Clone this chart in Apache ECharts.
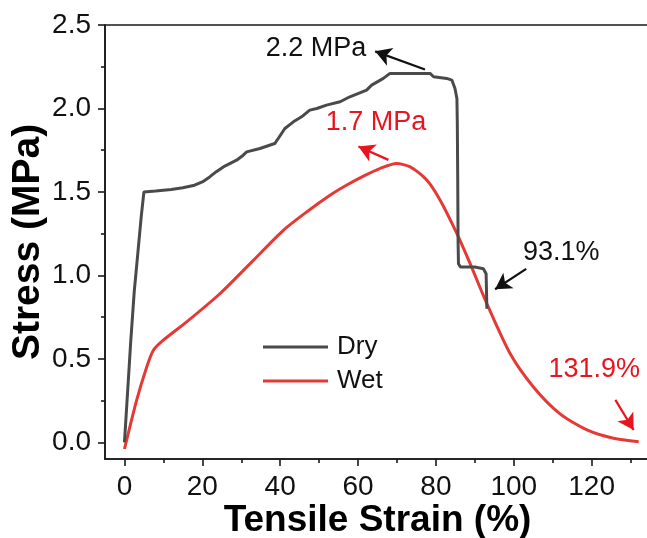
<!DOCTYPE html>
<html><head><meta charset="utf-8">
<script src="https://cdn.jsdelivr.net/npm/echarts@6/dist/echarts.min.js"></script>
<style>html,body{margin:0;padding:0;background:#fff}#c{width:647px;height:538px}</style>
</head><body><div id="c"></div>
<script>
var dryData = [[0,0],[0.8,0.3],[1.6,0.6],[2.5,0.9],[3.5,1.15],[4.3,1.35],[5.0,1.5],[5.5,1.51],[8,1.505],[12,1.515],[15,1.525],[18,1.54],[20,1.56],[21.9,1.59],[23.5,1.62],[25.4,1.65],[28.8,1.69],[30.5,1.72],[31.4,1.74],[34.8,1.76],[38.6,1.79],[39.5,1.82],[41.2,1.88],[43.4,1.92],[45.5,1.95],[47.6,1.99],[49.4,2.0],[51.9,2.02],[55.4,2.04],[57.9,2.07],[62.2,2.11],[63.5,2.14],[66.5,2.18],[68.2,2.21],[78.5,2.21],[79.4,2.19],[82.8,2.18],[84.1,2.17],[84.9,2.12],[85.4,2.06],[85.5,1.92],[85.6,1.6],[85.7,1.2],[85.8,1.07],[86.3,1.05],[90,1.05],[92.2,1.04],[92.9,1.01],[93.1,0.80]];
var wetData = [[0,-0.04],[3.1,0.25],[5.7,0.45],[7.4,0.55],[9.9,0.61],[15.9,0.72],[24.5,0.89],[33.1,1.09],[40.8,1.27],[46.8,1.38],[52.8,1.48],[57,1.54],[61.4,1.595],[65.6,1.64],[69.9,1.67],[73.4,1.65],[77.7,1.57],[81.1,1.45],[85.4,1.25],[88.8,1.07],[93.1,0.83],[99.1,0.53],[105.1,0.33],[111.9,0.17],[118.8,0.074],[125.6,0.024],[132.1,0.004]];
var xMajor = [0,20,40,60,80,100,120];
var xMinor = [10,30,50,70,90,110,130];
var yMajor = [0,0.5,1.0,1.5,2.0,2.5];
var yMinor = [0.25,0.75,1.25,1.75,2.25];
var seriesNames = ['Dry','Wet'];
// annotations: [text, textX, textY, arrowTail, arrowHead]
var dryNotes = [['2.2 MPa',49.2,2.358,[77.2,2.233],[64.4,2.342]],['93.1%',112.2,1.138,[103.2,1.039],[95.2,0.917]]];
var wetNotes = [['1.7 MPa',64.6,1.914,[67.8,1.692],[60.1,1.772]],['131.9%',120.7,0.433,[126.1,0.254],[130.8,0.074]]];

var FONT = 'Liberation Sans';
var DRY = '#4a4a4a', WET = '#e53935', TXTRED = '#e8141f';
function notesFor(notes, txtColor, arrColor){
  return {
    markPoint: {
      symbol: 'rect', symbolSize: 1, itemStyle:{color:'rgba(0,0,0,0)'},
      label: {show:true, position:'inside', color: txtColor, fontSize: 27, fontFamily: FONT,
        formatter: function(p){return p.name;}},
      data: notes.map(function(n){return {name:n[0], coord:[n[1],n[2]]};})
    },
    markLine: {
      silent: true, symbol: ['none','arrow'], symbolSize: [14,16],
      lineStyle: {color: arrColor, width: 2.2, type:'solid'}, label:{show:false},
      animation:false,
      data: notes.map(function(n){return [{coord:n[3]},{coord:n[4]}];})
    }
  };
}
function mkX(vals, len, showLabel, showLine){
  return {type:'value', min:-5, max:135, position:'bottom',
    axisLine:{show:showLine, onZero:false, lineStyle:{color:'#1a1a1a', width:1.6}},
    axisTick:{show:true, customValues: vals, length: len, lineStyle:{color:'#1a1a1a', width:1.6}},
    axisLabel:{show:showLabel, customValues: vals, fontSize:28, fontFamily:FONT, color:'#111', margin:14},
    splitLine:{show:false},
    name: showLabel ? 'Tensile Strain (%)' : '', nameLocation:'middle', nameGap:43, nameMoveOverlap:false,
    nameTextStyle:{fontSize:37, fontWeight:'bold', fontFamily:FONT, color:'#000'}};
}
function mkY(vals, len, showLabel, showLine){
  return {type:'value', min:-0.1, max:2.5, position:'left',
    axisLine:{show:showLine, onZero:false, lineStyle:{color:'#1a1a1a', width:1.6}},
    axisTick:{show:true, customValues: vals, length: len, lineStyle:{color:'#1a1a1a', width:1.6}},
    axisLabel:{show:showLabel, customValues: vals, fontSize:28, fontFamily:FONT, color:'#111', margin:14,
      formatter:function(v){return v.toFixed(1);}},
    splitLine:{show:false},
    name: showLabel ? 'Stress (MPa)' : '', nameLocation:'middle', nameGap:57, nameMoveOverlap:false,
    nameTextStyle:{fontSize:39, fontWeight:'bold', fontFamily:FONT, color:'#000'}};
}
var chart = echarts.init(document.getElementById('c'), null, {renderer:'canvas'});
var dryS = Object.assign({name:seriesNames[0], type:'line', data:dryData, symbol:'none', xAxisIndex:0, yAxisIndex:0,
  lineStyle:{color:DRY, width:3}, itemStyle:{color:DRY}, z:3}, notesFor(dryNotes,'#111','#111'));
var wetS = Object.assign({name:seriesNames[1], type:'line', data:wetData, symbol:'none', smooth:0.25, xAxisIndex:0, yAxisIndex:0,
  lineStyle:{color:WET, width:3}, itemStyle:{color:WET}, z:2}, notesFor(wetNotes,TXTRED,TXTRED));
chart.setOption({
  animation:false,
  grid:{left:105, right:-3, top:25, bottom:79, show:true, borderColor:'#1a1a1a', borderWidth:1.6, backgroundColor:'transparent',
    containLabel:false, outerBoundsMode:'none'},
  xAxis:[mkX(xMajor,7,true,true), mkX(xMinor,4,false,false)],
  yAxis:[mkY(yMajor,7,true,true), mkY(yMinor,4,false,false)],
  legend:{data:seriesNames.map(function(n){return {name:n, icon:'rect'};}), orient:'vertical', left:258, top:328,
    itemWidth:65, itemHeight:3, itemGap:6,
    textStyle:{fontSize:26, fontFamily:FONT, color:'#111', padding:[0,0,0,4], lineHeight:28}},
  series:[dryS, wetS]
});
</script></body></html>
